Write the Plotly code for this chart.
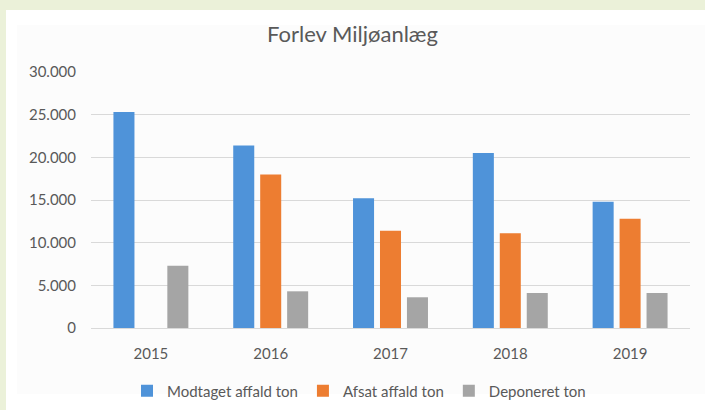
import plotly.graph_objects as go

years = ["2015", "2016", "2017", "2018", "2019"]
modtaget = [25300, 21400, 15200, 20500, 14800]
afsat = [None, 18000, 11400, 11100, 12800]
deponeret = [7300, 4300, 3600, 4100, 4100]
series_names = ["Modtaget affald ton", "Afsat affald ton", "Deponeret ton"]
colors = ["#4f93d9", "#ed7d31", "#a5a5a5"]
y_ticks = [0, 5000, 10000, 15000, 20000, 25000, 30000]

W, H = 705, 410
ML, MR, MT, MB = 91, 15, 72, 82
PW, PH = W - ML - MR, H - MT - MB


def px_x(p):
    return (p - ML) / PW


def px_y(p):
    return (H - MB - p) / PH


fig = go.Figure()
for name, vals, col in zip(series_names, [modtaget, afsat, deponeret], colors):
    fig.add_trace(go.Bar(x=years, y=vals, name=name, marker=dict(color=col, line=dict(width=0))))

txt = "#595959"
fig.update_layout(
    width=W, height=H, autosize=False,
    margin=dict(l=ML, r=MR, t=MT, b=MB, pad=0, autoexpand=False),
    paper_bgcolor="#ebf1d9",
    plot_bgcolor="rgba(0,0,0,0)",
    barmode="group", bargap=0.325, bargroupgap=0.22,
    separators=",.",
    font=dict(family="Lato", size=15, color=txt),
    title=dict(text="Forlev Miljøanlæg", x=0.5, xref="container", xanchor="center",
               y=1 - 34 / H, yref="container", yanchor="middle",
               font=dict(family="Lato", size=22, color=txt)),
    showlegend=True,
    legend=dict(orientation="h", xref="container", x=359 / W, xanchor="center",
                yref="container", y=1 - 391 / H, yanchor="middle",
                font=dict(family="Lato", size=15, color=txt), itemwidth=30, bgcolor="rgba(0,0,0,0)",
                traceorder="normal"),
    xaxis=dict(showgrid=False, showline=True, linecolor="#d9d9d9", linewidth=1, ticks="",
               ticklabelstandoff=12, tickfont=dict(family="Lato", size=15, color=txt), fixedrange=True),
    yaxis=dict(range=[0, 30000], tickvals=y_ticks, tickformat=",.0f", showgrid=True, gridcolor="#d9d9d9",
               gridwidth=1, zeroline=False, showline=False, ticks="", ticklabelstandoff=14,
               tickfont=dict(family="Lato", size=15, color=txt), fixedrange=True),
    shapes=[
        dict(type="rect", xref="paper", yref="paper", layer="below",
             x0=px_x(6), x1=px_x(W + 2), y0=px_y(H + 2), y1=px_y(10),
             fillcolor="#ffffff", line=dict(width=0)),
        dict(type="rect", xref="paper", yref="paper", layer="below",
             x0=px_x(17), x1=px_x(W + 2), y0=px_y(394), y1=px_y(25),
             fillcolor="#fcfcfc", line=dict(width=0)),
    ],
)

fig.write_html(
    "out.html",
    config={"responsive": False, "displayModeBar": False},
    post_script="document.body.style.margin='0';document.body.style.overflow='hidden';",
)
